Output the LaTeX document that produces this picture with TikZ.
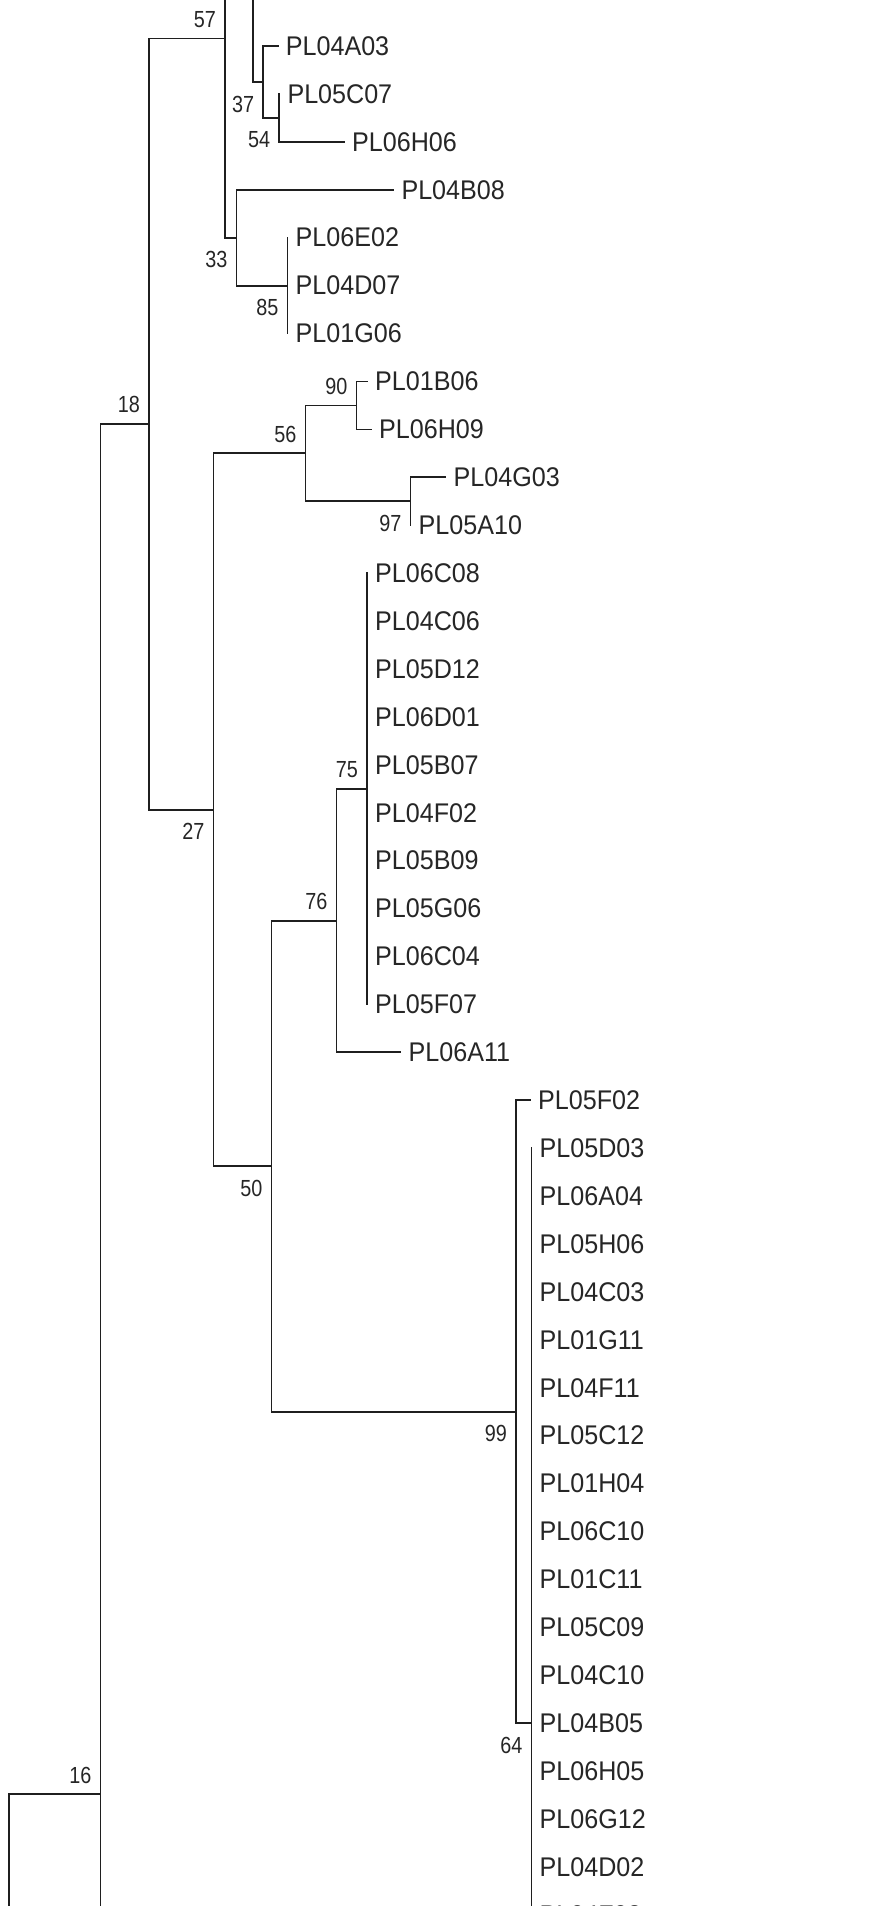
\documentclass[tikz,border=0pt]{standalone}
\usepackage{fontspec}
\newfontfamily\leaffont[FakeStretch=0.93]{Liberation Sans}
\newfontfamily\numfont[FakeStretch=0.85]{Liberation Sans}
\tikzset{
  branch/.style={draw=black!88, line width=1.8pt, line cap=rect},
  leaf/.style={anchor=west, inner sep=0pt, xshift=8pt, text=black!85, font=\leaffont\fontsize{27}{30}\selectfont},
  bootup/.style={anchor=east, inner sep=0pt, xshift=-9pt, yshift=19pt, text=black!85, font=\numfont\fontsize{23.3}{26}\selectfont},
  bootdn/.style={anchor=east, inner sep=0pt, xshift=-9pt, yshift=-22pt, text=black!85, font=\numfont\fontsize{23.3}{26}\selectfont}
}
\begin{document}
\begin{tikzpicture}[x=1pt,y=-1pt]
\useasboundingbox (0,0) rectangle (874,1906);
\fill[white] (0,0) rectangle (874,1906);
\clip (0,0) rectangle (874,1906);
% helpers
\coordinate (top) at (0,-30);
\coordinate (bot) at (0,1960);
% internal nodes
\coordinate (root) at (9,1794);
\coordinate (n16) at (100.5,1794);
\coordinate (n18) at (149,423.9);
\coordinate (n57) at (225,38.5);
\coordinate (nT) at (252.7,-161);
\coordinate (n37) at (263.3,82);
\coordinate (n54) at (279.3,117.9);
\coordinate (n33) at (236.5,237.7);
\coordinate (n85) at (287.5,285.6);
\coordinate (n27) at (213.5,809.8);
\coordinate (n56) at (305.5,453.3);
\coordinate (n90) at (356.5,405.4);
\coordinate (n97) at (410.5,501.2);
\coordinate (n50) at (271.5,1166.2);
\coordinate (n76) at (336.5,920.6);
\coordinate (n75) at (367,788.8);
\coordinate (n99) at (516,1411.7);
\coordinate (n64) at (531.5,1723.2);
% leaf tips
\coordinate (l0) at (277.7,46.0);
\coordinate (l1) at (279.3,93.9);
\coordinate (l2) at (344,141.8);
\coordinate (l3) at (393.3,189.8);
\coordinate (l4) at (287.5,237.7);
\coordinate (l5) at (287.5,285.6);
\coordinate (l6) at (287.5,333.5);
\coordinate (l7) at (367,381.4);
\coordinate (l8) at (371,429.4);
\coordinate (l9) at (445.5,477.3);
\coordinate (l10) at (410.5,525.2);
\coordinate (l21) at (400.5,1052.3);
\coordinate (l22) at (530,1100.2);
\foreach \i in {11,...,20} { \coordinate (l\i) at (367,{46+47.92*\i}); }
\foreach \i in {23,...,39} { \coordinate (l\i) at (531.5,{46+47.92*\i}); }
% leaf labels
\node[leaf] (t0) at (l0) {PL04A03};
\node[leaf] (t1) at (l1) {PL05C07};
\node[leaf] (t2) at (l2) {PL06H06};
\node[leaf] (t3) at (l3) {PL04B08};
\node[leaf] (t4) at (l4) {PL06E02};
\node[leaf] (t5) at (l5) {PL04D07};
\node[leaf] (t6) at (l6) {PL01G06};
\node[leaf] (t7) at (l7) {PL01B06};
\node[leaf] (t8) at (l8) {PL06H09};
\node[leaf] (t9) at (l9) {PL04G03};
\node[leaf] (t10) at (l10) {PL05A10};
\foreach \i/\t in {11/PL06C08,12/PL04C06,13/PL05D12,14/PL06D01,15/PL05B07,16/PL04F02,17/PL05B09,18/PL05G06,19/PL06C04,20/PL05F07}
  { \node[leaf] (t\i) at (l\i) {\t}; }
\node[leaf] (t21) at (l21) {PL06A11};
\node[leaf] (t22) at (l22) {PL05F02};
\foreach \i/\t in {23/PL05D03,24/PL06A04,25/PL05H06,26/PL04C03,27/PL01G11,28/PL04F11,29/PL05C12,30/PL01H04,31/PL06C10,32/PL01C11,33/PL05C09,34/PL04C10,35/PL04B05,36/PL06H05,37/PL06G12,38/PL04D02,39/PL04F03}
  { \node[leaf] (t\i) at (l\i) {\t}; }
% bootstrap values
\node[bootup] (b57) at (n57) {57};
\node[bootup] (b18) at (n18) {18};
\node[bootup] (b90) at (n90) {90};
\node[bootup] (b56) at (n56) {56};
\node[bootup] (b75) at (n75) {75};
\node[bootup] (b76) at (n76) {76};
\node[bootup] (b16) at (n16) {16};
\node[bootdn] (b37) at (n37) {37};
\node[bootdn] (b54) at (n54) {54};
\node[bootdn] (b33) at (n33) {33};
\node[bootdn] (b85) at (n85) {85};
\node[bootdn] (b97) at (n97) {97};
\node[bootdn] (b27) at (n27) {27};
\node[bootdn] (b50) at (n50) {50};
\node[bootdn] (b99) at (n99) {99};
\node[bootdn] (b64) at (n64) {64};
% vertical lines
\draw[branch] (root) -- (root |- bot);
\draw[branch] (n16 |- n18) -- (n16 |- bot);
\draw[branch] (n18 |- n57) -- (n18 |- n27);
\draw[branch] (n57 |- top) -- (n57 |- n33);
\draw[branch] (nT |- top) -- (nT |- n37);
\draw[branch] (n37 |- l0) -- (n37 |- n54);
\draw[branch] (n54 |- l1) -- (n54 |- l2);
\draw[branch] (n33 |- l3) -- (n33 |- n85);
\draw[branch] (n85 |- l4) -- (n85 |- l6);
\draw[branch] (n27 |- n56) -- (n27 |- n50);
\draw[branch] (n56 |- n90) -- (n56 |- n97);
\draw[branch] (n90 |- l7) -- (n90 |- l8);
\draw[branch] (n97 |- l9) -- (n97 |- l10);
\draw[branch] (n50 |- n76) -- (n50 |- n99);
\draw[branch] (n76 |- n75) -- (n76 |- l21);
\draw[branch] (n75 |- l11) -- (n75 |- l20);
\draw[branch] (n99 |- l22) -- (n99 |- n64);
\draw[branch] (n64 |- l23) -- (n64 |- bot);
% horizontal lines
\draw[branch] (root) -- (n16);
\draw[branch] (n16 |- n18) -- (n18);
\draw[branch] (n18 |- n57) -- (n57);
\draw[branch] (n18 |- n27) -- (n27);
\draw[branch] (n57 |- nT) -- (nT);
\draw[branch] (n57 |- n33) -- (n33);
\draw[branch] (nT |- n37) -- (n37);
\draw[branch] (n37 |- l0) -- (l0);
\draw[branch] (n37 |- n54) -- (n54);
\draw[branch] (n54 |- l2) -- (l2);
\draw[branch] (n33 |- l3) -- (l3);
\draw[branch] (n33 |- n85) -- (n85);
\draw[branch] (n27 |- n56) -- (n56);
\draw[branch] (n27 |- n50) -- (n50);
\draw[branch] (n56 |- n90) -- (n90);
\draw[branch] (n56 |- n97) -- (n97);
\draw[branch] (n90 |- l7) -- (l7);
\draw[branch] (n90 |- l8) -- (l8);
\draw[branch] (n97 |- l9) -- (l9);
\draw[branch] (n50 |- n76) -- (n76);
\draw[branch] (n50 |- n99) -- (n99);
\draw[branch] (n76 |- n75) -- (n75);
\draw[branch] (n76 |- l21) -- (l21);
\draw[branch] (n99 |- l22) -- (l22);
\draw[branch] (n99 |- n64) -- (n64);
\end{tikzpicture}
\end{document}
